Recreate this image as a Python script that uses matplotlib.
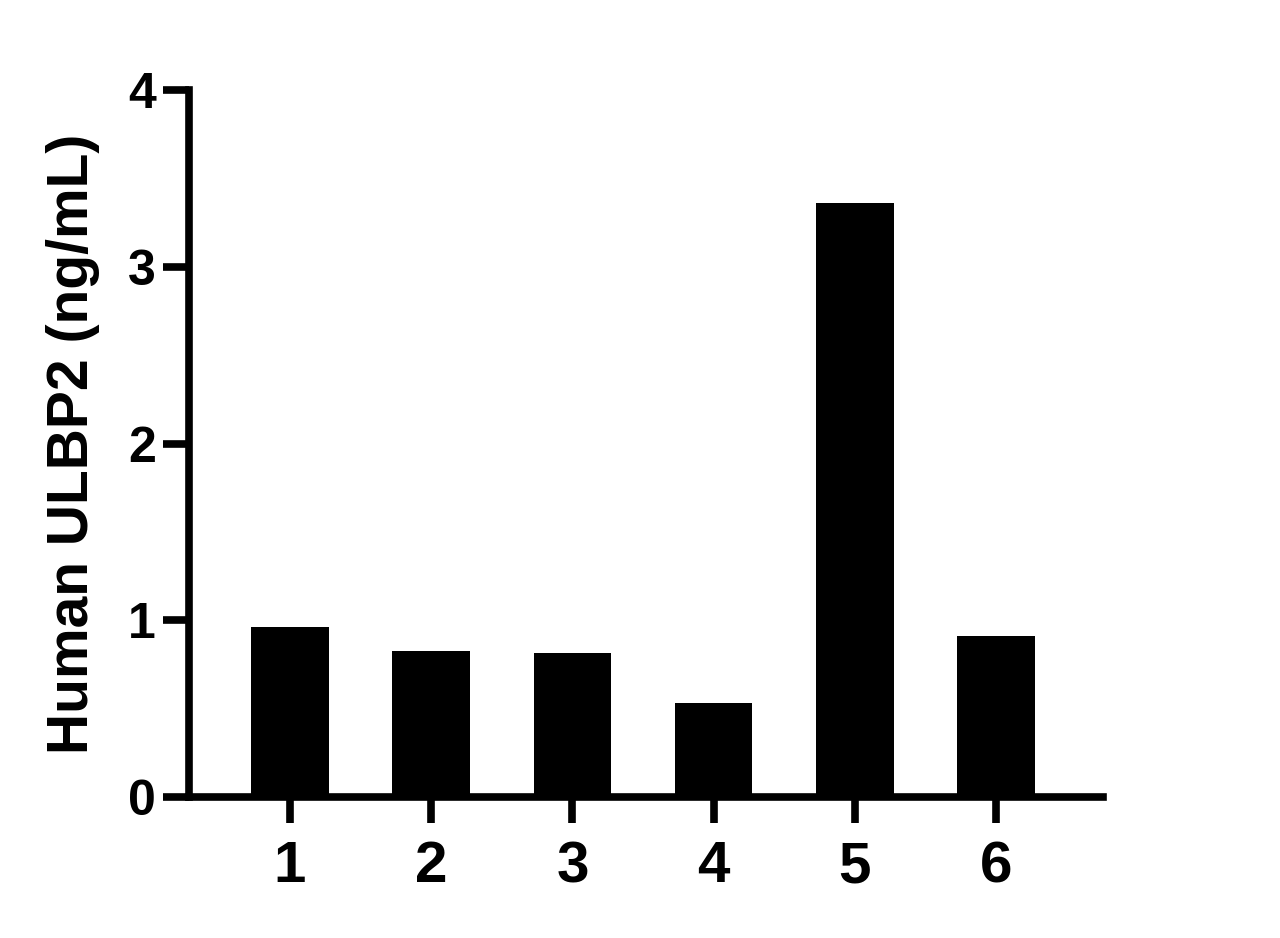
import matplotlib
matplotlib.use("Agg")
import matplotlib.pyplot as plt

# valores
samples = ["1", "2", "3", "4", "5", "6"]
ulbp2 = [0.962, 0.826, 0.815, 0.532, 3.36, 0.911]
y_ticks = [0, 1, 2, 3, 4]

plt.rcParams['font.family'] = ['Liberation Sans', 'DejaVu Sans']
plt.rcParams['font.weight'] = 'bold'

fig = plt.figure(figsize=(12.8, 9.38), dpi=100)
ax = fig.add_axes([0.1477, 0.1503, 0.7140, 0.7537])

pos = list(range(1, len(samples) + 1))
ax.bar(pos, ulbp2, width=0.55, color='black', edgecolor='black', linewidth=0)

ax.set_xlim(0.285, 6.758)
ax.set_ylim(0, 4)
ax.set_xticks(pos)
ax.set_xticklabels(samples)
ax.set_yticks(y_ticks)

for s in ['top', 'right']:
    ax.spines[s].set_visible(False)
for s in ['left', 'bottom']:
    ax.spines[s].set_linewidth(5.5)

ax.tick_params(axis='both', width=5.5, length=19, direction='out', color='black')
ax.tick_params(axis='x', labelsize=42, pad=12)
ax.tick_params(axis='y', labelsize=36, pad=5)
for lbl in ax.get_xticklabels() + ax.get_yticklabels():
    lbl.set_fontweight('bold')

ax.set_ylabel("Human ULBP2 (ng/mL)", fontsize=41, fontweight='bold', labelpad=20)

fig.savefig("out.png", dpi=100)
